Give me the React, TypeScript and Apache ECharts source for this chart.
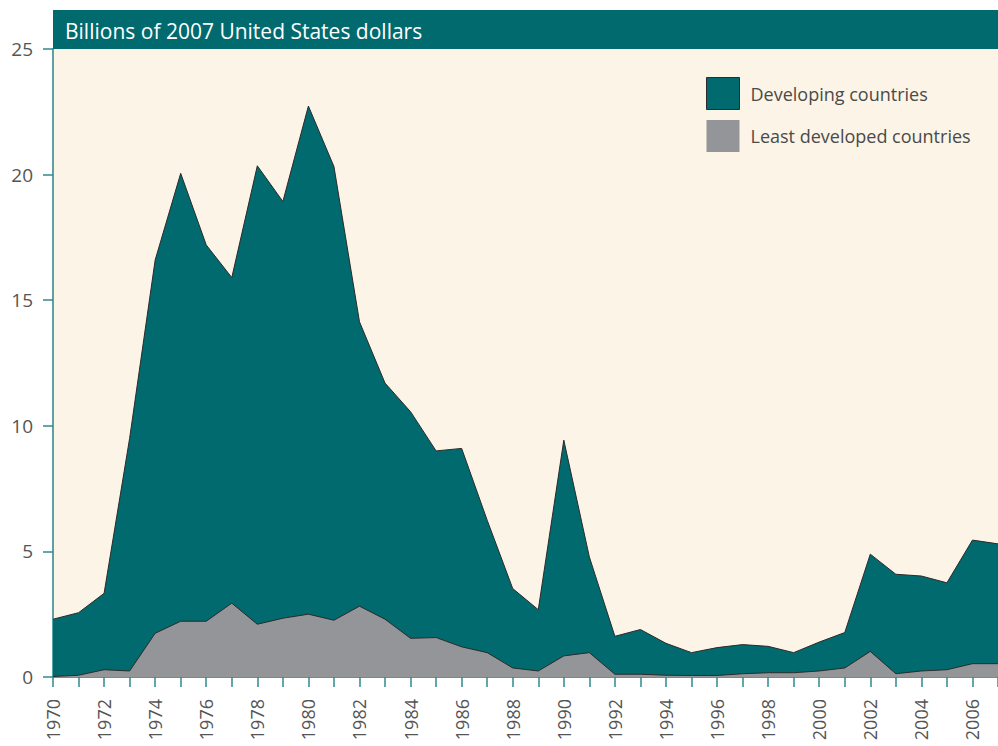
import React, { useEffect, useRef } from "react";
import * as echarts from "echarts";

const years: number[] = [];
for (let y = 1970; y <= 2007; y++) years.push(y);

const developing = [
  2.3, 2.56, 3.33, 9.5, 16.6, 20.05, 17.2, 15.9, 20.35, 18.93,
  22.73, 20.32, 14.14, 11.7, 10.56, 9.0, 9.1, 6.24, 3.52, 2.68,
  9.43, 4.78, 1.62, 1.89, 1.34, 0.97, 1.17, 1.29, 1.22, 0.97,
  1.39, 1.77, 4.89, 4.09, 4.02, 3.75, 5.45, 5.3,
];

const leastDeveloped = [
  0.02, 0.07, 0.29, 0.24, 1.74, 2.22, 2.22, 2.94, 2.1, 2.34,
  2.5, 2.26, 2.82, 2.3, 1.54, 1.57, 1.2, 0.97, 0.36, 0.24,
  0.84, 0.97, 0.11, 0.11, 0.07, 0.06, 0.06, 0.13, 0.17, 0.17,
  0.24, 0.36, 1.02, 0.13, 0.24, 0.29, 0.53, 0.53,
];

const seriesNames = ["Developing countries", "Least developed countries"];
const titleText = "Billions of 2007 United States dollars";

const TEAL = "#006a6e";
const GRAY = "#939598";
const CREAM = "#fcf4e6";
const FONT = "'Open Sans', 'Noto Sans', sans-serif";

export default function App() {
  const ref = useRef<HTMLDivElement>(null);
  useEffect(() => {
    if (!ref.current) return;
    const chart = echarts.init(ref.current, undefined, { renderer: "svg" });
    const toPairs = (arr: number[]) => years.map((y, i) => [y, arr[i]]);
    chart.setOption({
      animation: false,
      backgroundColor: "#ffffff",
      textStyle: { fontFamily: FONT },
      grid: {
        left: 53,
        right: -4,
        top: 49,
        bottom: 69,
        show: true,
        backgroundColor: CREAM,
        borderWidth: 0,
      },
      legend: {
        orient: "vertical",
        left: 706,
        top: 77,
        padding: 0,
        itemWidth: 33,
        itemHeight: 32,
        itemGap: 10,
        icon: "rect",
        textStyle: { fontFamily: FONT, fontSize: 18, color: "#4a4a4a", padding: [0, 0, 0, 6] },
        data: [
          { name: seriesNames[0], itemStyle: { color: TEAL, borderColor: "#2b2b2b", borderWidth: 1 } },
          { name: seriesNames[1], itemStyle: { color: GRAY, borderWidth: 0 } },
        ],
      },
      xAxis: {
        type: "value",
        min: 1970,
        max: 2007,
        interval: 1,
        splitLine: { show: false },
        axisLine: { show: true, lineStyle: { color: "#4f9c9e", width: 2 } },
        axisTick: { show: true, length: 10, lineStyle: { color: "#2f8a8d", width: 1.5 } },
        axisLabel: {
          rotate: 90,
          margin: 22,
          fontSize: 18,
          color: "#555555",
          fontFamily: FONT,
          formatter: (v: number) => (v % 2 === 0 && v < 2007 ? String(v) : ""),
        },
      },
      yAxis: {
        type: "value",
        min: 0,
        max: 25,
        interval: 5,
        splitLine: { show: false },
        axisLine: { show: true, lineStyle: { color: "#5aa2a5", width: 2 } },
        axisTick: { show: true, length: 10, lineStyle: { color: "#2f8a8d", width: 1.5 } },
        axisLabel: { margin: 20, fontSize: 19, color: "#555555", fontFamily: FONT },
      },
      graphic: [
        {
          type: "rect",
          shape: { x: 53, y: 10, width: 950, height: 39 },
          style: { fill: TEAL },
          z: 10,
        },
        {
          type: "text",
          x: 65,
          y: 31,
          style: {
            text: titleText,
            fill: "#ffffff",
            fontSize: 21,
            fontFamily: FONT,
            verticalAlign: "middle",
          },
          z: 11,
        },
      ],
      series: [
        {
          name: seriesNames[0],
          type: "line",
          data: toPairs(developing),
          showSymbol: false,
          symbol: "none",
          lineStyle: { color: "#2b2b2b", width: 1 },
          itemStyle: { color: TEAL },
          areaStyle: { color: TEAL, opacity: 1 },
          z: 2,
        },
        {
          name: seriesNames[1],
          type: "line",
          data: toPairs(leastDeveloped),
          showSymbol: false,
          symbol: "none",
          lineStyle: { color: "#2b2b2b", width: 1 },
          itemStyle: { color: GRAY },
          areaStyle: { color: GRAY, opacity: 1 },
          z: 3,
        },
      ],
    });
    return () => chart.dispose();
  }, []);
  return (
    <div
      ref={ref}
      style={{ position: "fixed", left: 0, top: 0, width: 998, height: 746 }}
    />
  );
}
